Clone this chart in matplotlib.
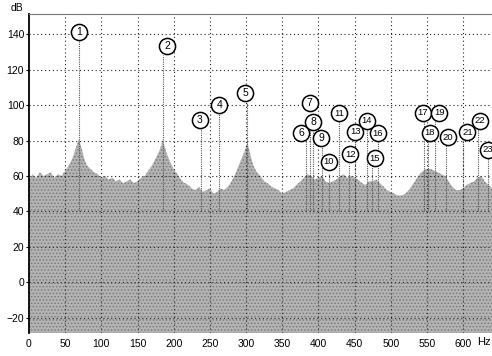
import matplotlib
matplotlib.use("Agg")
import matplotlib.pyplot as plt

# spectrum envelope (top of the grey noise floor)
env_hz = [0, 5, 10, 15, 20, 25, 30, 35, 40, 45, 50, 55, 60, 65, 69, 73, 77,
          80, 85, 90, 95, 100, 105, 110, 115, 120, 125, 130, 135, 140, 145,
          150, 155, 160, 165, 170, 175, 180, 185, 190, 195, 200, 205, 210,
          215, 220, 225, 230, 235, 240, 245, 250, 255, 260, 265, 270, 275,
          280, 285, 290, 295, 298, 302, 306, 310, 315, 320, 325, 330, 335,
          340, 345, 350, 355, 360, 365, 370, 375, 380, 385, 390, 395, 400,
          405, 410, 415, 420, 425, 430, 435, 440, 445, 450, 455, 460, 465,
          470, 475, 480, 485, 490, 495, 500, 505, 510, 515, 520, 525, 530,
          535, 540, 545, 550, 555, 560, 565, 570, 575, 580, 585, 590, 595,
          600, 605, 610, 615, 620, 625, 630, 635, 640]
env_db = [58, 61, 59, 62, 60, 61, 62, 59, 61, 60, 63, 66, 70, 76, 81, 75, 69,
          66, 64, 62, 61, 59, 60, 58, 59, 57, 58, 56, 57, 58, 56,
          57, 59, 60, 63, 66, 70, 74, 80, 73, 68, 64, 61, 58,
          56, 55, 53, 52, 54, 51, 52, 53, 50, 51, 53, 52, 54,
          57, 61, 66, 71, 74, 79, 72, 66, 62, 60, 57, 56, 54,
          53, 52, 50, 51, 52, 53, 55, 57, 59, 61, 60, 58, 59,
          60, 57, 56, 57, 58, 60, 61, 59, 60, 59, 58, 56, 55,
          57, 57, 58, 56, 54, 52, 51, 50, 49, 49, 50, 52, 55,
          58, 61, 63, 64, 64, 63, 62, 61, 60, 57, 54, 52, 52,
          53, 55, 56, 57, 59, 60, 57, 55, 53]

# numbered peaks
peak_no = list(range(1, 24))
peak_hz = [69, 185, 238, 263, 302, 383, 388, 393, 405, 414, 429, 442, 451,
           467, 474, 483, 546, 551, 561, 577, 600, 621, 635]
peak_db = [138, 128, 89, 95, 101, 80, 87, 85, 77, 61, 91, 67, 79,
           87, 66, 80, 92, 81, 93, 79, 82, 88, 72]

# where the circled numbers sit
label_hz = [69, 191, 236, 263, 299, 376, 388, 393, 404, 414, 429, 444, 451,
            467, 478, 482, 544, 554, 567, 579, 606, 623, 634]
label_db = [141, 133, 91.5, 100, 107, 84, 101, 90.3, 81.6, 68, 95.3, 72.2,
            84.8, 91, 70, 84, 95.7, 84.5, 95.7, 81.8, 84.7, 91.2, 74.7]

xticks = list(range(0, 601, 50))
yticks = list(range(-20, 141, 20))

plt.rcParams["font.family"] = ["Liberation Sans", "DejaVu Sans"]
plt.rcParams["hatch.linewidth"] = 0.7

fig = plt.figure(figsize=(4.92, 3.56), dpi=100)
ax = fig.add_axes([29 / 492, 23 / 356, 463 / 492, 319 / 356])

ax.fill_between(env_hz, -40, env_db, facecolor="#b4b4b4", edgecolor="#7a7a7a",
                hatch=".....", linewidth=0, zorder=1)
ax.vlines(peak_hz, 40, peak_db, colors="#555555", linewidth=0.8,
          linestyles=(0, (1, 1)), zorder=2)

ax.scatter(label_hz, label_db, s=135, facecolor="white", edgecolor="black",
           linewidth=1.1, zorder=5, clip_on=False)
for n, x, y in zip(peak_no, label_hz, label_db):
    ax.text(x, y, str(n), ha="center", va="center",
            fontsize=7.5 if n < 10 else 6.8, zorder=6, clip_on=False)

ax.set_xlim(0, 640)
ax.set_ylim(-28.5, 151.3)
ax.set_xticks(xticks)
ax.set_yticks(yticks)
ax.tick_params(labelsize=7.5, length=2, width=0.8, pad=1.5)
ax.grid(True, color="#222222", linestyle=(0, (1, 2.5)), linewidth=0.8)
ax.set_axisbelow(False)

ax.spines["right"].set_visible(False)
ax.spines["bottom"].set_visible(False)
ax.spines["left"].set_linewidth(1.3)
ax.spines["top"].set_color("#777777")
ax.tick_params(axis="x", length=0, pad=4)

fig.text(17 / 492, 1 - 8 / 356, "dB", fontsize=7.5, ha="center", va="center")
fig.text(484 / 492, 1 - 342 / 356, "Hz", fontsize=8, ha="center", va="center")

fig.savefig("out.png", dpi=100)
